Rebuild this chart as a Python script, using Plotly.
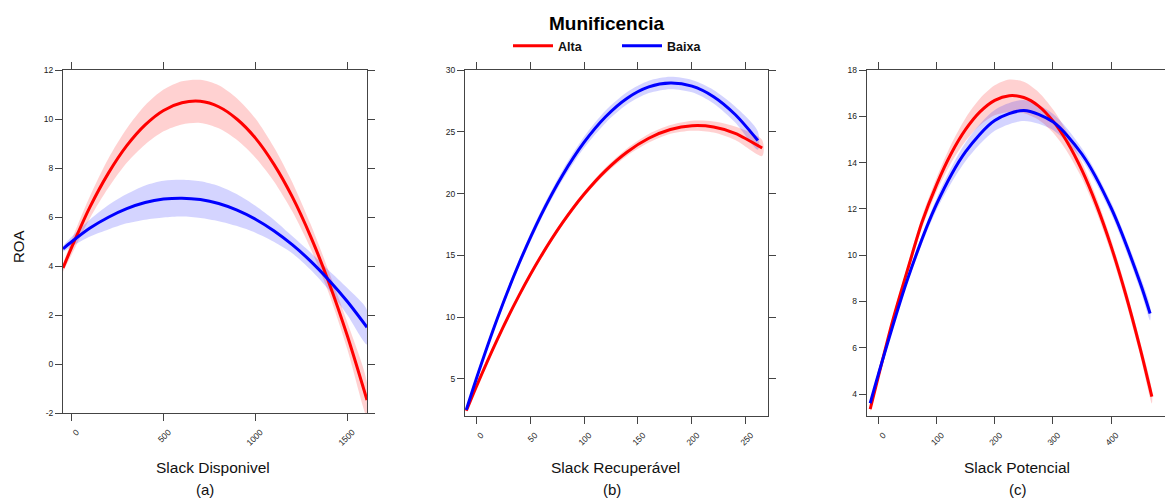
import plotly.graph_objects as go

W, H = 1165, 503

# ---------------- data ----------------
# (a) Slack Disponivel
a_x_alta = [-47, 0, 100, 200, 300, 400, 500, 600, 700, 800, 900, 1000, 1100, 1200, 1300, 1400, 1500, 1607]
a_alta = [3.92, 4.76, 6.41, 7.79, 8.91, 9.76, 10.35, 10.66, 10.72, 10.50, 9.99, 9.22, 8.16, 6.83, 5.21, 3.32, 1.15, -1.47]
a_alta_se = [0.15, 0.3, 0.45, 0.6, 0.7, 0.8, 0.85, 0.88, 0.88, 0.88, 0.85, 0.8, 0.7, 0.6, 0.5, 0.45, 0.55, 0.7]
a_x_baixa = [-47, 0, 100, 200, 300, 400, 500, 600, 700, 800, 900, 1000, 1100, 1200, 1300, 1400, 1500, 1607]
a_baixa = [4.70, 4.99, 5.55, 5.99, 6.34, 6.59, 6.73, 6.77, 6.71, 6.55, 6.28, 5.91, 5.44, 4.87, 4.20, 3.42, 2.55, 1.50]
a_baixa_se = [0.12, 0.2, 0.35, 0.5, 0.6, 0.7, 0.75, 0.75, 0.75, 0.72, 0.65, 0.55, 0.45, 0.35, 0.35, 0.4, 0.55, 0.7]

# (b) Slack Recuperável
b_x_alta = [-9, 0, 20, 40, 60, 80, 100, 120, 140, 160, 180, 200, 220, 240, 265]
b_alta = [2.42, 4.32, 8.25, 11.78, 14.9, 17.62, 19.94, 21.86, 23.37, 24.48, 25.19, 25.49, 25.39, 24.88, 23.69]
b_alta_se = [0.1, 0.15, 0.2, 0.2, 0.2, 0.2, 0.2, 0.25, 0.3, 0.35, 0.35, 0.4, 0.45, 0.55, 0.65]
b_x_baixa = [-9, 0, 20, 40, 60, 80, 100, 120, 140, 160, 180, 200, 220, 240, 261]
b_baixa = [2.5, 4.94, 9.95, 14.38, 18.22, 21.47, 24.14, 26.22, 27.72, 28.63, 28.95, 28.69, 27.84, 26.40, 24.3]
b_baixa_se = [0.15, 0.2, 0.25, 0.3, 0.35, 0.4, 0.45, 0.5, 0.5, 0.5, 0.5, 0.5, 0.55, 0.65, 0.75]

# (c) Slack Potencial
c_x_alta = [-14, 0, 25, 50, 75, 100, 125, 150, 175, 200, 225, 250, 275, 300, 325, 350, 375, 400, 425, 450, 470]
c_alta = [3.35, 4.75, 7.2, 9.35, 11.42, 13.04, 14.38, 15.43, 16.20, 16.69, 16.89, 16.81, 16.45, 15.80,
          14.87, 13.66, 12.16, 10.38, 8.31, 5.96, 3.89]
c_alta_se = [0.12, 0.15, 0.18, 0.2, 0.25, 0.3, 0.4, 0.5, 0.58, 0.65, 0.7, 0.68, 0.6, 0.5, 0.42, 0.35,
             0.32, 0.3, 0.3, 0.3, 0.3]
c_x_baixa = [-14, 0, 50, 100, 150, 200, 250, 300, 350, 400, 450, 467]
c_baixa = [3.6, 4.85, 8.95, 12.20, 14.47, 15.82, 16.25, 15.76, 14.36, 12.04, 8.80, 7.48]
c_baixa_se = [0.1, 0.12, 0.15, 0.25, 0.4, 0.45, 0.45, 0.35, 0.25, 0.25, 0.3, 0.3]

groups = ["Alta", "Baixa"]
x_titles = ["Slack Disponivel", "Slack Recuperável", "Slack Potencial"]
panel_tags = ["(a)", "(b)", "(c)"]
y_title = "ROA"
legend_title = "Munificencia"

x_ticks = [[0, 500, 1000, 1500], [0, 50, 100, 150, 200, 250], [0, 100, 200, 300, 400, 500]]
y_ticks = [[-2, 0, 2, 4, 6, 8, 10, 12], [5, 10, 15, 20, 25, 30], [4, 6, 8, 10, 12, 14, 16, 18]]

panels = [
    [(a_x_alta, a_alta, a_alta_se), (a_x_baixa, a_baixa, a_baixa_se)],
    [(b_x_alta, b_alta, b_alta_se), (b_x_baixa, b_baixa, b_baixa_se)],
    [(c_x_alta, c_alta, c_alta_se), (c_x_baixa, c_baixa, c_baixa_se)],
]

# ---------------- styling ----------------
line_cols = ["#ff0000", "#0000ff"]
band_cols = ["rgba(255,0,0,0.18)", "rgba(0,0,255,0.17)"]
FONT = "Liberation Sans, Arial, sans-serif"
AXCOL = "#444444"

x_dom = [[63 / W, 367 / W], [465 / W, 768 / W], [866.7 / W, 1.0]]
y_dom = [[1 - 413 / H, 1 - 70 / H], [1 - 416 / H, 1 - 70 / H], [1 - 416 / H, 1 - 70 / H]]
x_rng = [[-47, 1607], [-10.2, 270.4], [-20, 492.6]]
y_rng = [[-2, 12], [2.0, 30], [3.05, 18]]

fig = go.Figure()

for p, series in enumerate(panels):
    xr = "x" if p == 0 else f"x{p+1}"
    yr = "y" if p == 0 else f"y{p+1}"
    # bands first
    for g, (xs, ys, se) in enumerate(series):
        upper = [v + s for v, s in zip(ys, se)]
        lower = [v - s for v, s in zip(ys, se)]
        fig.add_trace(go.Scatter(
            x=list(xs) + list(xs)[::-1], y=upper + lower[::-1],
            fill="toself", fillcolor=band_cols[g], mode="lines",
            line=dict(width=0, shape="spline", smoothing=0.8),
            hoverinfo="skip", showlegend=False, xaxis=xr, yaxis=yr))
    for g, (xs, ys, se) in enumerate(series):
        fig.add_trace(go.Scatter(
            x=xs, y=ys, mode="lines", name=groups[g],
            line=dict(color=line_cols[g], width=3, shape="spline", smoothing=0.8),
            showlegend=(p == 0), legendgroup=groups[g], xaxis=xr, yaxis=yr))

layout = dict(
    width=W, height=H, autosize=False, template="none",
    margin=dict(l=0, r=0, t=0, b=0),
    paper_bgcolor="white", plot_bgcolor="white",
    font=dict(family=FONT, color="#111111"),
    showlegend=True,
    legend=dict(orientation="h", x=508 / W, y=1 - 46 / H, xanchor="left", yanchor="middle",
                font=dict(size=12.5, color="#111111", family=FONT, weight="bold"),
                itemwidth=40, entrywidth=54, bgcolor="rgba(0,0,0,0)", borderwidth=0,
                traceorder="normal"),
)

for p in range(3):
    xk = "xaxis" if p == 0 else f"xaxis{p+1}"
    yk = "yaxis" if p == 0 else f"yaxis{p+1}"
    layout[xk] = dict(
        domain=x_dom[p], range=x_rng[p], anchor="y" if p == 0 else f"y{p+1}",
        tickmode="array", tickvals=x_ticks[p], ticktext=[str(v) for v in x_ticks[p]],
        ticks="outside", ticklen=7, tickwidth=1, tickcolor=AXCOL,
        showline=True, linecolor=AXCOL, linewidth=1, mirror="ticks",
        showgrid=False, zeroline=False, automargin=False,
        tickangle=-45, tickfont=dict(size=8.5, color="#222222", family=FONT),
        ticklabelshift=5, ticklabelstandoff=3,
    )
    layout[yk] = dict(
        domain=y_dom[p], range=y_rng[p], anchor="x" if p == 0 else f"x{p+1}",
        tickmode="array", tickvals=y_ticks[p], ticktext=[str(v) for v in y_ticks[p]],
        ticks="outside", ticklen=7, tickwidth=1, tickcolor=AXCOL,
        showline=True, linecolor=AXCOL, linewidth=1,
        mirror=("ticks" if p < 2 else False),
        showgrid=False, zeroline=False, automargin=False,
        tickfont=dict(size=8.5, color="#222222", family=FONT),
    )

fig.update_layout(**layout)

ann = []
x_title_cx = [213, 615, 1017]
tag_cx = [205, 612, 1018]
for p in range(3):
    ann.append(dict(text=x_titles[p], x=x_title_cx[p] / W, y=1 - 467 / H, xref="paper", yref="paper",
                    xanchor="center", yanchor="middle", showarrow=False,
                    font=dict(size=15.5, color="#111111", family=FONT)))
    ann.append(dict(text=panel_tags[p], x=tag_cx[p] / W, y=1 - 489 / H, xref="paper", yref="paper",
                    xanchor="center", yanchor="middle", showarrow=False,
                    font=dict(size=15, color="#111111", family=FONT)))
ann.append(dict(text=y_title, x=19 / W, y=1 - 247 / H, xref="paper", yref="paper",
                xanchor="center", yanchor="middle", showarrow=False, textangle=-90,
                font=dict(size=15, color="#111111", family=FONT)))
ann.append(dict(text="<b>" + legend_title + "</b>", x=607 / W, y=1 - 24 / H, xref="paper", yref="paper",
                xanchor="center", yanchor="middle", showarrow=False,
                font=dict(size=19, color="#000000", family=FONT)))
fig.update_layout(annotations=ann)

fig.write_html("out.html",
               config={"displayModeBar": False, "responsive": False},
               post_script="document.body.style.margin='0';document.body.style.padding='0';"
                           "document.body.style.overflow='hidden';")
